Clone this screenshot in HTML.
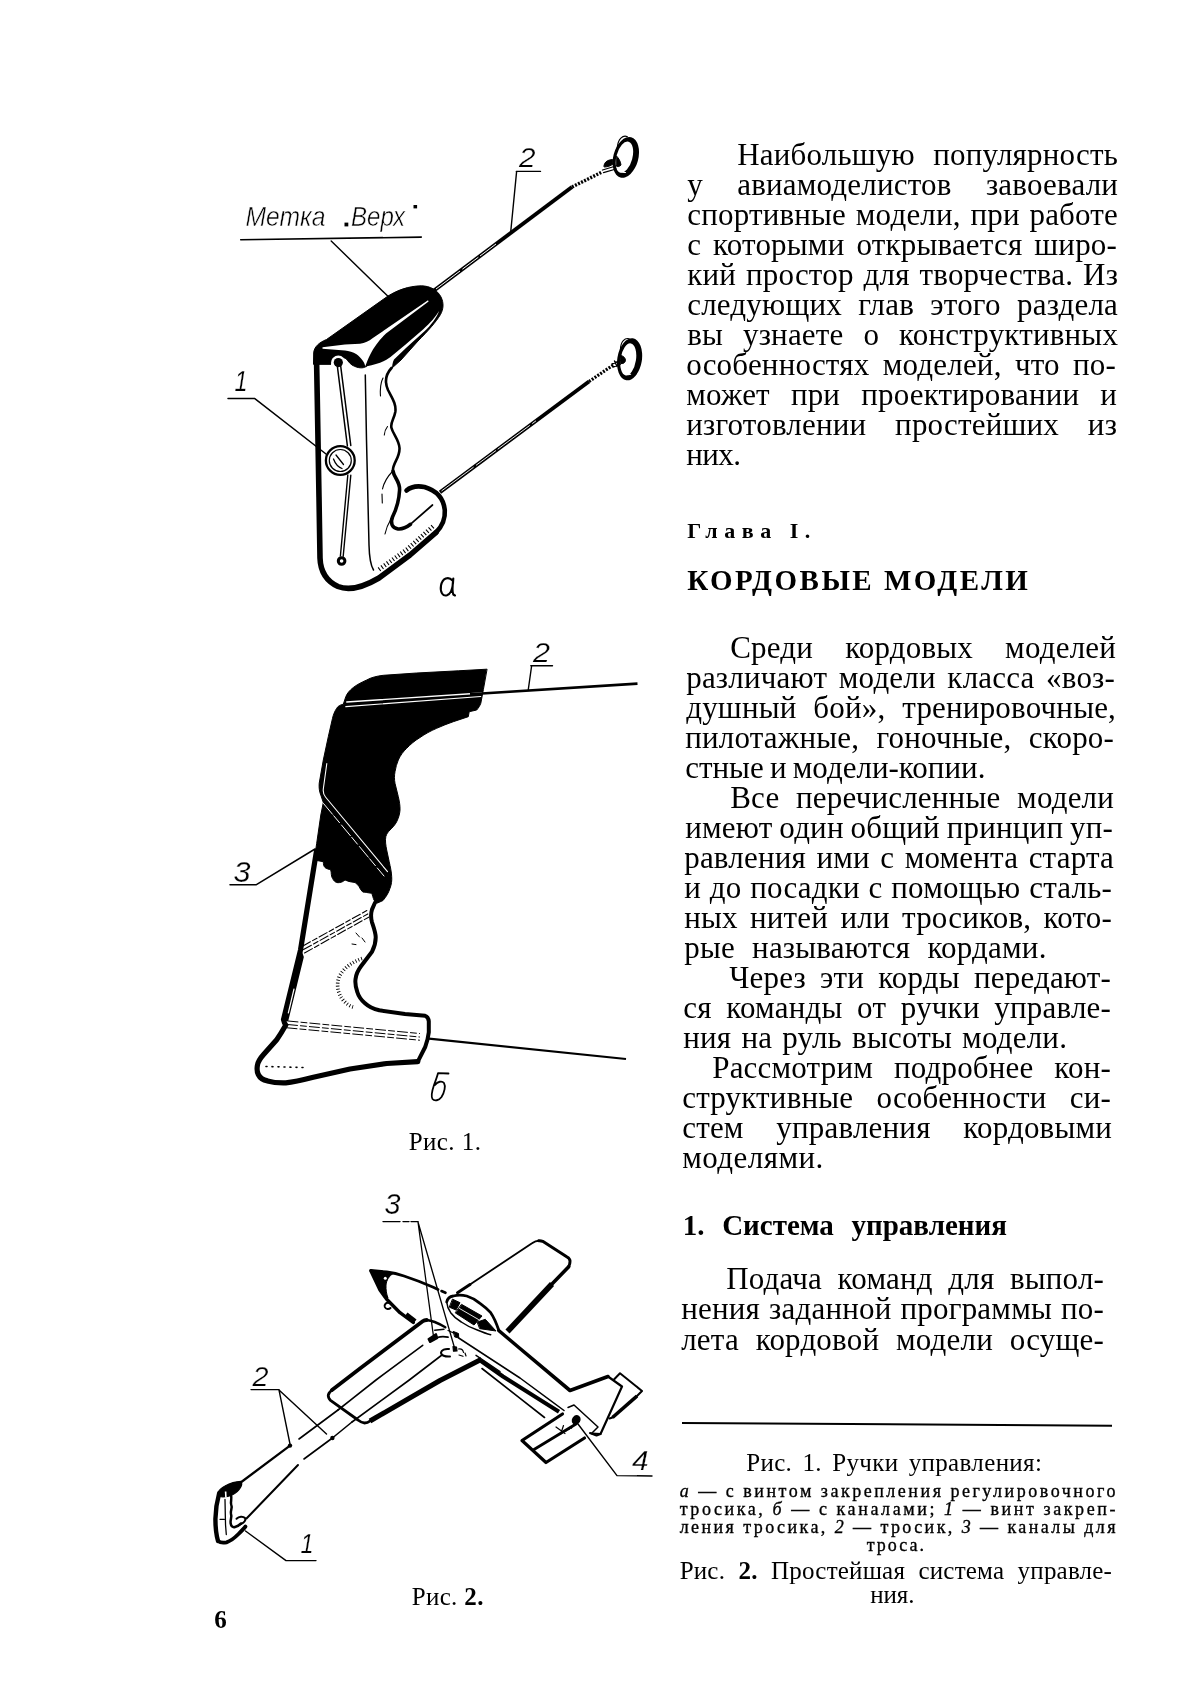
<!DOCTYPE html>
<html><head><meta charset="utf-8"><title>page 6</title>
<style>
html,body{margin:0;padding:0;background:#fff;}
body{width:1200px;height:1702px;position:relative;overflow:hidden;font-family:"Liberation Serif",serif;color:#000;}
.t{position:absolute;white-space:nowrap;font-family:"Liberation Serif",serif;}
.rule{position:absolute;background:#000;}
svg{position:absolute;left:0;top:0;}
#wrap{position:absolute;left:0;top:0;width:1200px;height:1702px;will-change:transform;transform:translateZ(0);}
</style></head><body><div id="wrap">
<svg width="1200" height="1702" viewBox="0 0 1200 1702">
<g id="fig1a" fill="none" stroke="#000" stroke-linecap="round" stroke-linejoin="round">
  <!-- cap (black) -->
  <path d="M313.5 364 L313.7 353 C314 347,319 342.5,326.5 339.5 L388 296 C397 290.5,408 286,421.5 285.8 C430 286,437.5 290,441 297 C444 303,443.5 309,440.5 314.5 C436 322,428 331,418 341 L401 360 L391.5 368.5 C383 368,374 366,366 366.6 C363 368.5,358 368.5,352 365 C348 362,347 359,345 358 L332 358 L332 364 Z" fill="#000" stroke-width="1"/>
  <!-- white highlights on cap -->
  <path d="M322.5 347.2 L345 344.6 L360 343.8 C365 343,369 341,372.5 338.3 L428 300.3 L428.6 301.6 L386 333.5 C379 340,374 347,370.5 354 C368 359,366.5 363,365.3 366.3 C364.5 362,361 357.5,356.5 354.2 C353 352,349 350.8,345 350.4 L322.5 348.8 Z" fill="#fff" stroke="none"/>
  <path d="M366 368.6 L367 366.2 C376 364.5,384 362,390.5 357 L405 345 L423 329.5 C430 323,436 316.5,439 311 C437 317.5,431 325,424.5 331.3 L406.5 347.5 L394 359.5 C392.5 362.5,392 366,391.8 370.2 Z" fill="#fff" stroke="none"/>
  <!-- hole -->
  <circle cx="338.3" cy="362.8" r="7.3" fill="#fff" stroke="none"/>
  <rect x="331" y="363.5" width="14.6" height="8" fill="#fff" stroke="none"/>
  <circle cx="338.3" cy="362.6" r="4.6" fill="#000" stroke="none"/>
  <!-- body outline -->
  <path d="M316.6 362 L317.3 400 L319 497 L320 558 C320.5 572,326 581,338 586.5 C348 590.5,362 588,379 578 L410 555 L436 532.5" stroke-width="5.6"/>
  <path d="M436 532.5 C442 526.5,445.5 520,444.8 510 C443.5 498,436.5 490.5,424.5 487 C416.5 485.5,410 487.5,406.5 490.5" stroke-width="4.6"/>
  <!-- grip wavy line -->
  <path d="M391.5 368 C386 374,384.5 382,388 390 C392 398,396.5 404,395.3 412 C394 419,390 423,391.5 428 C393 434,399 440,399.5 448 C400 458,392 464,393 471" stroke-width="2.6"/>
  <path d="M393 471 C394 478,400 481,399.6 490 C399 502,396 510,392.5 517 C390 523,392 528,398 529 C403 529.5,407 527,410.5 524.3" stroke-width="3.6"/>
  <path d="M410 524.6 L432.5 505" stroke-width="1.7"/>
  <path d="M383 378 C380 384,380 390,380.5 396" stroke-width="1.1"/>
  <path d="M392.8 471 C388 476,384 482,382.5 489 M382 494 L382.3 503" stroke-width="1.1"/>
  <path d="M391 519 C388 524,386 529,385 534" stroke-width="1.1"/>
  <path d="M387.5 426.5 C385.5 429,384.5 432,384.3 435" stroke-width="1.1"/>
  <!-- inner vertical line -->
  <path d="M365.3 375 L366.5 440 L369 545 C369.3 557,370.5 565,373.5 570" stroke-width="1.5"/>
  <!-- hatch along bottom of foot -->
  <path d="M379 569.5 L407.5 549 L434.5 525" stroke-width="4.4" stroke-dasharray="1.1 2.3" stroke-linecap="butt"/>
  <!-- wire inside -->
  <path d="M337.2 365 L347.4 446 M340.5 364.6 L350.8 445.5" stroke-width="1.5"/>
  <path d="M347.8 475 L340.4 556 M350.8 475.3 L343.2 556.2" stroke-width="1.4"/>
  <circle cx="341.6" cy="561" r="3.3" stroke-width="3"/>
  <!-- screw -->
  <circle cx="340.3" cy="460.5" r="14.4" stroke-width="2.3" fill="#fff"/>
  <circle cx="340.3" cy="460.5" r="11" stroke-width="1.2"/>
  <path d="M336 455 L343.5 464.5 M333.5 459 C335 463,338 467,342 468.5" stroke-width="1.3"/>
  <!-- wires to rings -->
  <path d="M434 290.5 L572 187" stroke-width="4" stroke-linecap="butt"/>
  <path d="M436 289 L496 244" stroke="#fff" stroke-width="1" stroke-linecap="butt" stroke-dasharray="30 3 20 2"/>
  <path d="M572 187 L602 172" stroke-width="3.4" stroke-dasharray="2 1.4" stroke-linecap="butt"/>
  <g transform="rotate(15 625.8 157.4)">
    <path fill-rule="evenodd" fill="#000" stroke="none" d="M613.3 157.4 a12.5 20.8 0 1 0 25 0 a12.5 20.8 0 1 0 -25 0 Z M616.4 157.6 a8 16 0 1 0 16 0 a8 16 0 1 0 -16 0 Z"/>
    <path d="M615 150 C613.5 142,617 136,622 137" stroke-width="1.1"/>
    <path d="M619.5 163 C620.5 170,624 174.5,629.5 172" stroke="#fff" stroke-width="1"/>
  </g>
  <path d="M604 165.5 C604.5 162.5,606.5 160.8,609.5 160 L612.5 159.5 L613 164 C610.5 166,607.5 167,604.5 167 Z" fill="#000" stroke-width="1"/>
  <path d="M602.5 170 L617.5 165.5 M603.5 172.6 L616 169" stroke-width="1.3"/>
  <path d="M616.5 156 C618.5 158,620.5 161,621 165 C619 167,617.5 167,616.5 166 Z" fill="#000" stroke-width="1"/>
  <path d="M440 492.3 L589 381.5" stroke-width="3.8" stroke-linecap="butt"/>
  <path d="M441.5 491 L536 420.8" stroke="#fff" stroke-width="0.9" stroke-linecap="butt" stroke-dasharray="40 3 25 2"/>
  <path d="M589 381.5 L614 364.5" stroke-width="3.2" stroke-dasharray="2 1.4" stroke-linecap="butt"/>
  <g transform="rotate(9 629.6 359.3)">
    <path fill-rule="evenodd" fill="#000" stroke="none" d="M617.3 359.3 a12.3 21.2 0 1 0 24.6 0 a12.3 21.2 0 1 0 -24.6 0 Z M620.6 359.6 a7.7 16.2 0 1 0 15.4 0 a7.7 16.2 0 1 0 -15.4 0 Z"/>
    <path d="M619 351 C618 343,621.5 338.5,626 339" stroke-width="1.1"/>
    <path d="M623.5 366 C624.5 372.5,628 376.5,633 374" stroke="#fff" stroke-width="1"/>
  </g>
  <path d="M612 364 L620.5 360.5 M613 367 L620.5 364 M614.5 361 L617 366.5" stroke-width="1.4"/>
  <path d="M621 355.5 C623.5 356,625.5 358,625.5 360.5 C625 363,623 364,621 363.5 Z" fill="#000" stroke-width="1"/>
  <!-- leaders -->
  <path d="M240.7 239.8 L421.3 237.1" stroke-width="1.6"/>
  <path d="M331.2 241 L387.7 296" stroke-width="1.4"/>
  <path d="M228 398.4 L254.5 398.4 L326 454" stroke-width="1.5"/>
  <path d="M516.3 171.4 L540.5 171.4 M516.6 171.6 L510.6 233" stroke-width="1.4"/>
  <!-- labels -->
  <g fill="#000" stroke="#fff" stroke-width="0.25" font-family="'Liberation Sans',sans-serif" font-style="italic">
    <text x="245.5" y="226" font-size="28" stroke-width="0.5" textLength="80" lengthAdjust="spacingAndGlyphs">Метка</text>
    <text x="351" y="226" font-size="28" stroke-width="0.5" textLength="54" lengthAdjust="spacingAndGlyphs">Верх</text>
    <rect x="344.5" y="222.6" width="3.8" height="3.8" stroke="none"/>
    <rect x="413.5" y="205" width="3.6" height="3.4" stroke="none"/>
    <text x="234.5" y="390.7" font-size="29" textLength="13" lengthAdjust="spacingAndGlyphs">1</text>
    <text x="519" y="167" font-size="28.5" textLength="16.5" lengthAdjust="spacingAndGlyphs">2</text>
  </g>
  <!-- hand-drawn a -->
  <path d="M452.5 580.5 C448.5 576,442.5 578,441 585.5 C439.8 592.5,443 596.5,447 595.3 C450.5 594,452.5 588.5,453 583 L453.3 578.5 C452.5 585,452 591.5,453.3 594.5 L455 595.5" stroke-width="2.1"/>
</g>
<g id="fig1b" fill="none" stroke="#000" stroke-linecap="round" stroke-linejoin="round">
  <!-- black silhouette -->
  <path d="M486.7 669.2 L458.3 670.8 L416.7 673 L383.3 675.3 C377 676,371 677.5,366.7 680 C361 682.5,356.5 685,353.3 687.5 C349.5 690.5,347 693.5,345.8 696.7 L343.3 704.2 C340 705,338 706,336.7 708.3 C334.5 711.5,333.3 715,332.5 718.3 L328.3 736.7 L323.3 760 L319.2 783.3 C318.8 788,319.5 792,320.8 795 L323.3 802.5 L320.8 815 L316.7 843.3 L314.2 860 L323.3 861.7 C323.3 864,323.8 866.5,325 867.5 C326.5 869,329 869,330.8 870 C331.5 873,331 876.5,332.5 878.3 C333.5 880.5,335 882,336.7 882.5 C338.5 883,340.5 882.5,342.5 881.7 L345 880 C346.5 880.3,348 881.5,350 881.7 L355 882.5 C356.5 883.5,358 885,359.2 886.7 C360 888.5,361 890.5,362.5 891.7 C363.8 892.5,365.3 892.3,366.7 892.5 L371.7 893.3 C372.5 895,373 898,374.2 900.5 L377.5 903 L383 900.5 C386 897,388.5 893,390 888.3 C391.5 884.5,392 880.5,391.7 876.7 C391.5 872,390.3 866.5,389.2 861.7 L386.7 850 C385.8 845.5,385 840.5,385.8 836.7 C386.5 834,388 832,390 830 C392.5 827.5,395 825,396.7 821.7 C398.5 818,399.8 814,400 810 C400.2 805.5,399.3 801,398.3 796.7 L395 783.3 C394.3 779.5,394.3 775.5,395 771.7 C395.7 767.5,396.8 763.5,398.3 760 C400.3 755.5,403.2 751.5,406.7 748.3 C410.5 744.3,415 740.5,420 737.5 C425 734,430.5 731,436.7 728.3 C442 725.8,447.5 723.8,453.3 721.7 L468.3 716.7 L469.2 711.7 L476.7 710 C478.5 708,480 705.5,480.8 703.3 L483.3 690 Z" fill="#000" stroke-width="1"/>
  <!-- white channel lines in black -->
  <path d="M346.7 702 L481.7 693" stroke="#fff" stroke-width="1.3"/>
  <path d="M345.8 706.6 L480.8 696.5" stroke="#fff" stroke-width="1.1"/>
  <path d="M326.8 763.5 L323.3 789 C323 792,323.8 795,325.5 797 L387.5 871.7" stroke="#fff" stroke-width="1.1"/>
  <path d="M323.5 803.5 L384 876" stroke="#fff" stroke-width="1" stroke-dasharray="14 2 9 3"/>
  <!-- cable top -->
  <path d="M470 694.2 L637.5 683.6" stroke-width="2.6" stroke-linecap="butt"/>
  <!-- lower body outline -->
  <path d="M316.5 851 L300.5 950 L283.5 1019.5 C284 1022,285 1024,285.8 1025 C283 1030,280 1035,276.7 1039.7 L263.8 1054.3 C260.5 1058,258 1061.5,257.4 1065.3 C256.8 1069,257 1072,258.3 1074.5 C260 1078,263 1080,267.5 1080.9 C273 1082.5,279 1083,285.8 1082.8 C294.5 1082,303.5 1079.8,313.3 1077.3 L350 1069 L386.7 1063.5 L417.8 1061.7" stroke-width="5.2"/>
  <path d="M300.5 950 L283.5 1019.5 L287.5 1020.5 L303 957 Z" fill="#000" stroke-width="1.6"/>
  <path d="M294 989 L288.3 1013" stroke="#fff" stroke-width="1.2"/>
  <path d="M417.8 1061.7 L425.2 1047 C427 1042,428.3 1037,428.8 1032.3 L428.8 1021.3 C428.5 1018.5,427.5 1016.5,425.2 1015.8 L405 1014 L379.3 1010.3 C373.5 1009,368.5 1006.5,364.7 1003 C361 999.8,358.5 996,357.3 992 C355.8 987.8,355 983.5,355.5 979.2 C356 974.5,358 970.3,361 966.3 L372 951.7 C374.5 947,375.8 942,375.7 937 C375.5 932,373.5 927,372 922.3 C370.8 918,370.8 913.5,372 909.5 C373.5 905,376 900.5,379.3 896.7 L385.5 889.5" stroke-width="4"/>
  <!-- dashed channels -->
  <path d="M302.5 946.2 L366.8 910.6 M303.5 949.6 L368 913.8 M304.5 953 L369 917" stroke-width="1.1" stroke-dasharray="9 2.5 5 2.5"/>
  <path d="M288 1021 L419.5 1033.5 M287.5 1024.5 L419.5 1037 M287 1027.8 L419.5 1040.2" stroke-width="1" stroke-dasharray="10 3 6 3"/>
  <!-- hatch arc -->
  <path d="M362 958.5 C352 962,344 968,339.5 976 C336 984,337.5 993,343 1000 C346 1003.5,349.5 1006,353 1007" stroke-width="3.6" stroke-dasharray="0.9 2.1" stroke-linecap="butt"/>
  <path d="M356 933 L359.5 937 M352 944 L356 944.6 M362 938 L365 942" stroke-width="1"/>
  <path d="M266 1066.5 L303 1067.5" stroke-width="1.6" stroke-dasharray="1 5" />
  <!-- lower cable -->
  <path d="M429 1038.6 L626 1059" stroke-width="2.2" stroke-linecap="butt"/>
  <!-- leaders -->
  <path d="M530.8 665.8 L552.5 665.8 M531.6 666 L528.3 689.5" stroke-width="1.4"/>
  <path d="M230 884.8 L256 884.8 L315 849" stroke-width="1.5"/>
  <g fill="#000" stroke="#fff" stroke-width="0.25" font-family="'Liberation Sans',sans-serif" font-style="italic">
    <text x="533" y="661.7" font-size="28.5" textLength="17" lengthAdjust="spacingAndGlyphs">2</text>
    <text x="233.5" y="881.5" font-size="29" textLength="17" lengthAdjust="spacingAndGlyphs">3</text>
  </g>
  <!-- hand-drawn б -->
  <path d="M448.5 1073.5 L438 1073.2 C437 1077,435.5 1081,434 1085 C432 1091,430.5 1096,432.5 1099 C434.5 1101.5,439 1100.5,441.5 1097 C444.5 1092.5,445.8 1086,444 1083 C442 1080.5,437.5 1081.5,435 1085" stroke-width="1.8"/>
</g>
<g id="fig2" fill="none" stroke="#000" stroke-linecap="round" stroke-linejoin="round">
  <!-- nose -->
  <path d="M370.7 1270.5 L386.7 1272 C393 1272.8,399 1274.3,404 1276 L418.7 1281.3 L433.3 1287.3 L438 1289.5" stroke-width="2.8"/>
  <path d="M441.5 1291 L445.5 1292.8" stroke-width="2.6"/>
  <path d="M371 1271 L380 1290 L386.7 1299.3 L400 1312.7 L413.3 1322.5" stroke-width="3.4"/>
  <path d="M370.5 1270 L393.5 1273.3 C389 1276,386.5 1280,386 1285 C385.8 1290,386.5 1294,388 1298 L380 1290 Z" fill="#000" stroke-width="1"/>
  <circle cx="385.3" cy="1278.2" r="1.5" fill="#fff" stroke="none"/>
  <path d="M389.5 1303 C386 1302,384 1304.5,384.8 1307 C385.8 1309.5,389 1309.5,390.5 1308" stroke-width="2"/>
  <path d="M406 1314.5 L415 1321.5" stroke-width="5" stroke-linecap="butt"/>
  <!-- canopy -->
  <path d="M446.7 1302 C447.5 1298.5,450 1296.5,453.3 1296 C458 1294.8,462.5 1295,466.7 1296 C471.5 1297.5,476 1300,480 1303.3 C484.5 1306.5,488 1309.5,490.7 1312.7 C494 1317.5,496.5 1323.5,498.7 1330" stroke-width="2.8"/>
  <path d="M446.7 1302 C447 1306,448.5 1309.5,450.7 1312.7 C453.5 1316.5,457 1319.5,461.3 1322 C466 1325.3,471.5 1328,477.3 1330 C482 1332,486.5 1333.7,490.7 1334.7" stroke-width="1.5"/>
  <path d="M452.8 1299.3 L460 1302.7 L456 1310 L449.6 1307.3 Z M461.8 1304.5 L482 1316 L474 1325 L455.5 1313 Z M477.5 1322 L485.3 1319.3 L496 1331 L480 1328.7 Z" fill="#000" stroke-width="1"/>
  <path d="M459.5 1308.5 L478.5 1319.5" stroke="#fff" stroke-width="0.9"/>
  <!-- right wing -->
  <path d="M457.5 1292.7 L470 1284.5" stroke-width="3"/>
  <path d="M470 1284.5 L532 1243.3 C534.5 1241.5,536.5 1240.7,538.7 1240.7" stroke-width="1.9"/>
  <path d="M538.7 1240.7 C540.5 1240.5,541.5 1240.8,542.7 1241.3 L566.7 1256.7 C569 1258,570.3 1259.5,570 1261.5 C570 1263.5,569.5 1265,568.7 1266.7" stroke-width="3"/>
  <path d="M568.7 1266.7 L552 1284" stroke-width="3.6"/>
  <path d="M552 1284 L507.5 1331.5" stroke-width="5.6" stroke-linecap="butt"/>
  <!-- fuselage top + fin -->
  <path d="M498.7 1330.5 L520 1348.5 L570 1390.5 L608 1376.5" stroke-width="3.6"/>
  <path d="M608 1376.5 L622 1386.5 L600.5 1434 L592 1433.5" stroke-width="2.2"/>
  <path d="M600.5 1434 L596.5 1435.5 L590 1433" stroke-width="2"/>
  <path d="M614 1379.5 L620 1373.2 L642 1391 L636.5 1396.5" stroke-width="2"/>
  <path d="M637 1396 L612.5 1417.5" stroke-width="3.6" stroke-linecap="butt"/>
  <path d="M612.5 1417.5 L609.5 1418.5" stroke-width="2"/>
  <!-- fuselage lower lines -->
  <path d="M448 1330.5 L453.5 1333" stroke-width="1.2"/>
  <path d="M453.5 1331.5 L458.5 1333.5 L458.7 1338 L455 1337 Z" fill="#000" stroke-width="1"/>
  <path d="M458.7 1338 L520 1378 L564 1410.5" stroke-width="1.5"/>
  <path d="M476 1355.3 L500 1371.5" stroke-width="1.4"/>
  <path d="M481 1361 L503 1376.5 L559 1411.8" stroke-width="4" stroke-linecap="butt"/>
  <path d="M482 1368.5 L544.5 1417.5" stroke-width="1.6"/>
  <!-- stabilizer -->
  <path d="M562.5 1414 L522 1440.5 L546 1462.5 L584.5 1438" stroke-width="3.2"/>
  <path d="M534 1449.5 L576 1424" stroke-width="2.8"/>
  <path d="M568 1407.5 L574 1405 L598 1427 L592 1433" stroke-width="1.5"/>
  <path d="M575 1416 C578 1415,580.5 1417,580 1420 C579.5 1423.5,576 1425,573.5 1423.5 C571.5 1422,572 1418,575 1416 Z" fill="#000" stroke-width="1.2"/>
  <path d="M556 1427 L565 1433.5 M563.5 1425.5 L560.5 1434.5" stroke-width="1.2"/>
  <path d="M566 1431 L572 1428" stroke-width="1" stroke-dasharray="1 2"/>
  <!-- left wing -->
  <path d="M332 1390 L360 1368.5 L422.7 1321.3 C424 1320.3,425.5 1320,426.7 1320" stroke-width="3.8"/>
  <path d="M426.7 1320 C429.5 1320.3,432 1321,434.7 1322 C438.5 1323.5,442 1325.3,445.3 1327.3" stroke-width="2.4"/>
  <path d="M332 1390 C329.5 1392,328 1394,328.3 1396 C328.5 1398,329.3 1399.3,330.5 1400.3 L358 1420 C360.5 1422,362.5 1423,364.5 1423 C366.5 1423,368.5 1422.3,370 1421" stroke-width="2.8"/>
  <path d="M370 1421 L440 1380.5 L481.5 1359.3" stroke-width="5" stroke-linecap="butt"/>
  <path d="M338 1410 L376 1380 L422.7 1345.3" stroke-width="1.6"/>
  <path d="M352 1422 L409.3 1380 L441.3 1355.5" stroke-width="1.6"/>
  <!-- bellcranks -->
  <path d="M428.5 1339 L436 1334 L437.3 1338 L430 1342 Z" fill="#000" stroke-width="2"/>
  <path d="M437.3 1337.5 C441 1336.2,444.5 1336.3,448 1337.2" stroke-width="1.8"/>
  <path d="M434.7 1330.2 L444 1329.3" stroke-width="1.4"/>
  <path d="M449 1349 C445 1348.5,441.5 1350,441 1352.5 C441 1355.5,445 1356.8,450 1356.5" stroke-width="2"/>
  <path d="M453 1346.5 L456.5 1347 L457 1351 L453.5 1351.2 Z" fill="#000" stroke-width="1.2"/>
  <path d="M458.5 1349 C461 1348.5,463 1350,463.5 1352.5 M459 1355 L463 1356.3 M465 1353 L466 1356" stroke-width="1.2"/>
  <!-- control lines -->
  <path d="M240 1483 L290 1445.6" stroke-width="2.2"/>
  <path d="M299 1439 L338 1410" stroke-width="1.6"/>
  <path d="M246.5 1518.5 L298 1465" stroke-width="2"/>
  <path d="M304 1459 L332.4 1438 L352 1422" stroke-width="1.6"/>
  <circle cx="290" cy="1445.6" r="2.2" fill="#000" stroke="none"/>
  <circle cx="332.4" cy="1438" r="2.2" fill="#000" stroke="none"/>
  <!-- small handle -->
  <path d="M218.5 1492 C219.5 1489.5,222 1487.5,225 1486 C229.5 1483.5,235 1481.5,241 1481.3 C242 1483,241.8 1485.5,240.5 1487.5 C238.5 1491,235.5 1493.5,232 1495 C229 1496.5,226 1497,223 1497 L219 1496.5 Z" fill="#000" stroke-width="1.2"/>
  <path d="M225.6 1491.5 L225.9 1497.5" stroke="#fff" stroke-width="1.6" stroke-linecap="butt"/>
  <path d="M219.2 1493 C217 1501,215.6 1510,215.4 1519 C215.4 1527,216.3 1535,218 1541" stroke-width="4.4"/>
  <path d="M218 1541 C220.5 1543,223.5 1543,226.5 1542.3 C231 1541,235 1537.5,238.5 1534 C241.5 1531,244 1528.5,245.5 1526.5" stroke-width="3.8"/>
  <path d="M225 1499.5 L225.3 1515 C225.3 1522,225.7 1529,226.3 1534.5" stroke-width="1.3"/>
  <path d="M220 1519.3 L224.5 1519.3" stroke-width="1.2"/>
  <path d="M231 1495.5 C232.3 1499,230 1502,231.3 1505 C232.8 1508,230 1511,231 1514 C232.3 1517,230 1520,230.6 1523 C231 1526,232.5 1527.8,235 1527 C237.5 1526.3,239.5 1525,241 1523.5" stroke-width="2.5"/>
  <path d="M236.5 1518.7 C239 1516.3,243 1516,245 1518 C246 1520,244.5 1522.5,241 1524 L237.5 1526" stroke-width="2"/>
  <!-- leaders -->
  <path d="M383 1221.6 L418 1221.6" stroke-width="1.4" stroke-dasharray="17 3 6 2 20"/>
  <path d="M418 1222 L433.3 1335 M418 1222 L455 1349.5" stroke-width="1.3"/>
  <path d="M251 1389.6 L279 1389.6" stroke-width="1.4"/>
  <path d="M279 1390 L290 1444 M279 1390 L326.5 1434" stroke-width="1.4"/>
  <path d="M652 1476 L617 1475.6 L578 1424" stroke-width="1.4"/>
  <path d="M316 1560.6 L286 1560.6 L245.5 1531" stroke-width="1.4"/>
  <g fill="#000" stroke="#fff" stroke-width="0.25" font-family="'Liberation Sans',sans-serif" font-style="italic">
    <text x="384.5" y="1214" font-size="29" textLength="16" lengthAdjust="spacingAndGlyphs">3</text>
    <text x="252.5" y="1386" font-size="27" textLength="16" lengthAdjust="spacingAndGlyphs">2</text>
    <text x="632" y="1470" font-size="28" textLength="16.5" lengthAdjust="spacingAndGlyphs">4</text>
    <text x="300.5" y="1553" font-size="28" textLength="13" lengthAdjust="spacingAndGlyphs">1</text>
  </g>
</g>
</svg>

<div class="rule" style="left:682px;top:1422px;width:430px;height:2.4px;transform:rotate(0.35deg);transform-origin:left center"></div>
<div class="t" style="left:737.2px;top:138.64px;font-size:31px;line-height:31px;font-weight:400;font-style:normal;word-spacing:10.456px;letter-spacing:0.200px;">Наибольшую популярность</div>
<div class="t" style="left:687.2px;top:168.67px;font-size:31px;line-height:31px;font-weight:400;font-style:normal;word-spacing:26.358px;letter-spacing:0.200px;">у авиамоделистов завоевали</div>
<div class="t" style="left:687.2px;top:198.70px;font-size:31px;line-height:31px;font-weight:400;font-style:normal;word-spacing:1.757px;letter-spacing:0.200px;">спортивные модели, при работе</div>
<div class="t" style="left:687.2px;top:228.73px;font-size:31px;line-height:31px;font-weight:400;font-style:normal;word-spacing:4.011px;letter-spacing:0.200px;">с которыми открывается широ-</div>
<div class="t" style="left:687.2px;top:258.76px;font-size:31px;line-height:31px;font-weight:400;font-style:normal;word-spacing:1.971px;letter-spacing:0.200px;">кий простор для творчества. Из</div>
<div class="t" style="left:687.2px;top:288.79px;font-size:31px;line-height:31px;font-weight:400;font-style:normal;word-spacing:8.324px;letter-spacing:0.200px;">следующих глав этого раздела</div>
<div class="t" style="left:687.2px;top:318.82px;font-size:31px;line-height:31px;font-weight:400;font-style:normal;word-spacing:11.974px;letter-spacing:0.200px;">вы узнаете о конструктивных</div>
<div class="t" style="left:686.2px;top:348.85px;font-size:31px;line-height:31px;font-weight:400;font-style:normal;word-spacing:5.372px;letter-spacing:0.200px;">особенностях моделей, что по-</div>
<div class="t" style="left:686.2px;top:378.88px;font-size:31px;line-height:31px;font-weight:400;font-style:normal;word-spacing:13.077px;letter-spacing:0.200px;">может при проектировании и</div>
<div class="t" style="left:686.2px;top:408.91px;font-size:31px;line-height:31px;font-weight:400;font-style:normal;word-spacing:20.819px;letter-spacing:0.200px;">изготовлении простейших из</div>
<div class="t" style="left:686.2px;top:438.94px;font-size:31px;line-height:31px;font-weight:400;font-style:normal;letter-spacing:-0.579px;">них.</div>
<div class="t" style="left:730.2px;top:631.54px;font-size:31px;line-height:31px;font-weight:400;font-style:normal;word-spacing:24.109px;letter-spacing:0.200px;">Среди кордовых моделей</div>
<div class="t" style="left:686.2px;top:661.57px;font-size:31px;line-height:31px;font-weight:400;font-style:normal;word-spacing:3.627px;letter-spacing:0.200px;">различают модели класса «воз-</div>
<div class="t" style="left:686.2px;top:691.60px;font-size:31px;line-height:31px;font-weight:400;font-style:normal;word-spacing:8.859px;letter-spacing:0.200px;">душный бой», тренировочные,</div>
<div class="t" style="left:685.2px;top:721.63px;font-size:31px;line-height:31px;font-weight:400;font-style:normal;word-spacing:9.353px;letter-spacing:0.200px;">пилотажные, гоночные, скоро-</div>
<div class="t" style="left:685.2px;top:751.66px;font-size:31px;line-height:31px;font-weight:400;font-style:normal;word-spacing:-1.550px;letter-spacing:0.004px;">стные и модели-копии.</div>
<div class="t" style="left:730.2px;top:781.69px;font-size:31px;line-height:31px;font-weight:400;font-style:normal;word-spacing:8.714px;letter-spacing:0.200px;">Все перечисленные модели</div>
<div class="t" style="left:685.2px;top:811.72px;font-size:31px;line-height:31px;font-weight:400;font-style:normal;word-spacing:-1.077px;letter-spacing:0.200px;">имеют один общий принцип уп-</div>
<div class="t" style="left:684.2px;top:841.75px;font-size:31px;line-height:31px;font-weight:400;font-style:normal;word-spacing:2.494px;letter-spacing:0.200px;">равления ими с момента старта</div>
<div class="t" style="left:684.2px;top:871.78px;font-size:31px;line-height:31px;font-weight:400;font-style:normal;word-spacing:0.820px;letter-spacing:0.200px;">и до посадки с помощью сталь-</div>
<div class="t" style="left:684.2px;top:901.81px;font-size:31px;line-height:31px;font-weight:400;font-style:normal;word-spacing:4.373px;letter-spacing:0.200px;">ных нитей или тросиков, кото-</div>
<div class="t" style="left:684.2px;top:931.84px;font-size:31px;line-height:31px;font-weight:400;font-style:normal;word-spacing:9.267px;letter-spacing:0.200px;">рые называются кордами.</div>
<div class="t" style="left:729.2px;top:961.87px;font-size:31px;line-height:31px;font-weight:400;font-style:normal;word-spacing:6.128px;letter-spacing:0.200px;">Через эти корды передают-</div>
<div class="t" style="left:683.2px;top:991.90px;font-size:31px;line-height:31px;font-weight:400;font-style:normal;word-spacing:6.731px;letter-spacing:0.200px;">ся команды от ручки управле-</div>
<div class="t" style="left:683.2px;top:1021.93px;font-size:31px;line-height:31px;font-weight:400;font-style:normal;word-spacing:2.202px;letter-spacing:0.200px;">ния на руль высоты модели.</div>
<div class="t" style="left:712.2px;top:1051.96px;font-size:31px;line-height:31px;font-weight:400;font-style:normal;word-spacing:12.888px;letter-spacing:0.200px;">Рассмотрим подробнее кон-</div>
<div class="t" style="left:682.2px;top:1081.99px;font-size:31px;line-height:31px;font-weight:400;font-style:normal;word-spacing:15.219px;letter-spacing:0.200px;">структивные особенности си-</div>
<div class="t" style="left:682.2px;top:1112.02px;font-size:31px;line-height:31px;font-weight:400;font-style:normal;word-spacing:24.723px;letter-spacing:0.200px;">стем управления кордовыми</div>
<div class="t" style="left:682.2px;top:1142.05px;font-size:31px;line-height:31px;font-weight:400;font-style:normal;letter-spacing:0.468px;">моделями.</div>
<div class="t" style="left:726.2px;top:1263.44px;font-size:31px;line-height:31px;font-weight:400;font-style:normal;word-spacing:7.617px;letter-spacing:0.200px;">Подача команд для выпол-</div>
<div class="t" style="left:681.2px;top:1293.47px;font-size:31px;line-height:31px;font-weight:400;font-style:normal;word-spacing:1.136px;letter-spacing:0.200px;">нения заданной программы по-</div>
<div class="t" style="left:681.2px;top:1323.50px;font-size:31px;line-height:31px;font-weight:400;font-style:normal;word-spacing:8.859px;letter-spacing:0.200px;">лета кордовой модели осуще-</div>
<div class="t" style="left:687.2px;top:519.88px;font-size:22px;line-height:22px;font-weight:700;font-style:normal;letter-spacing:6.555px;">Глава I.</div>
<div class="t" style="left:687.2px;top:565.71px;font-size:29px;line-height:29px;font-weight:700;font-style:normal;letter-spacing:2.481px;">КОРДОВЫЕ МОДЕЛИ</div>
<div class="t" style="left:682.7px;top:1210.71px;font-size:29px;line-height:29px;font-weight:700;font-style:normal;word-spacing:10.444px;letter-spacing:0.000px;">1. Система управления</div>
<div class="t" style="left:746.2px;top:1449.56px;font-size:25px;line-height:25px;font-weight:400;font-style:normal;word-spacing:3.647px;letter-spacing:0.350px;">Рис. 1. Ручки управления:</div>
<div class="t" style="left:679.7px;top:1482.42px;font-size:18px;line-height:18px;font-weight:400;font-style:normal;letter-spacing:2.514px;-webkit-text-stroke:0.35px #000;"><i>а</i> — с винтом закрепления регулировочного</div>
<div class="t" style="left:679.7px;top:1500.42px;font-size:18px;line-height:18px;font-weight:400;font-style:normal;letter-spacing:2.580px;-webkit-text-stroke:0.35px #000;">тросика, <i>б</i> — с каналами; <i>1</i> — винт закреп-</div>
<div class="t" style="left:679.7px;top:1518.22px;font-size:18px;line-height:18px;font-weight:400;font-style:normal;letter-spacing:2.423px;-webkit-text-stroke:0.35px #000;">ления тросика, <i>2</i> — тросик, <i>3</i> — каналы для</div>
<div class="t" style="left:866.7px;top:1535.92px;font-size:18px;line-height:18px;font-weight:400;font-style:normal;letter-spacing:1.993px;-webkit-text-stroke:0.35px #000;">троса.</div>
<div class="t" style="left:679.7px;top:1557.86px;font-size:25px;line-height:25px;font-weight:400;font-style:normal;word-spacing:6.948px;letter-spacing:0.200px;">Рис. <b>2.</b> Простейшая система управле-</div>
<div class="t" style="left:870.2px;top:1582.06px;font-size:25px;line-height:25px;font-weight:400;font-style:normal;letter-spacing:-0.105px;">ния.</div>
<div class="t" style="left:408.7px;top:1129.06px;font-size:25px;line-height:25px;font-weight:400;font-style:normal;letter-spacing:0.427px;">Рис. 1.</div>
<div class="t" style="left:411.7px;top:1584.06px;font-size:25px;line-height:25px;font-weight:400;font-style:normal;letter-spacing:0.343px;">Рис. <b>2.</b></div>
<div class="t" style="left:214.2px;top:1607.06px;font-size:25px;line-height:25px;font-weight:700;font-style:normal;letter-spacing:0.700px;">6</div>
</div></body></html>
